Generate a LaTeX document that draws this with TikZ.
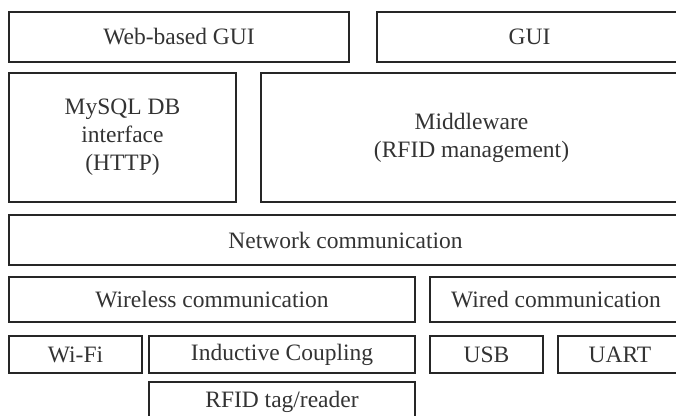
\documentclass[tikz,border=0pt]{standalone}
\usepackage{fontspec}
\setmainfont{Liberation Serif}
\tikzset{layer/.style={draw=black!85, line width=1.2pt, inner sep=0pt, align=center,
    text=black!80, font=\fontsize{23.5}{28}\selectfont}}
\begin{document}
\begin{tikzpicture}[x=1pt,y=-1pt]
    \useasboundingbox (0,0) rectangle (676,415);
    \clip (0,0) rectangle (676,415);
    % user interfaces
    \node[layer, minimum width=340, minimum height=50] (webgui) at (179,37) {Web-based GUI};
    \node[layer, minimum width=305, minimum height=50] (gui) at (529.5,37) {GUI};
    % services
    \node[layer, minimum width=227, minimum height=129] (mysql) at (122.5,137.5) {MySQL DB\\interface\\(HTTP)};
    \node[layer, minimum width=421, minimum height=129] (middleware) at (471.5,137.5) {Middleware\\(RFID management)};
    % communication
    \node[layer, minimum width=673, minimum height=50] (network) at (345.5,240) {Network communication};
    \node[layer, minimum width=406, minimum height=45] (wireless) at (212,299.5) {Wireless communication};
    \node[layer, minimum width=252, minimum height=45] (wired) at (556,299.5) {Wired communication};
    \node[layer, minimum width=133, minimum height=37] (wifi) at (75.5,354.5) {Wi-Fi};
    \node[layer, minimum width=266, minimum height=37] (inductive) at (282,354.5) {Inductive Coupling};
    \node[layer, minimum width=113, minimum height=37] (usb) at (486.5,354.5) {USB};
    \node[layer, minimum width=124, minimum height=37] (uart) at (620,354.5) {UART};
    % hardware
    \node[layer, minimum width=266, minimum height=40] (rfid) at (282,402) {RFID tag/reader};
\end{tikzpicture}
\end{document}
